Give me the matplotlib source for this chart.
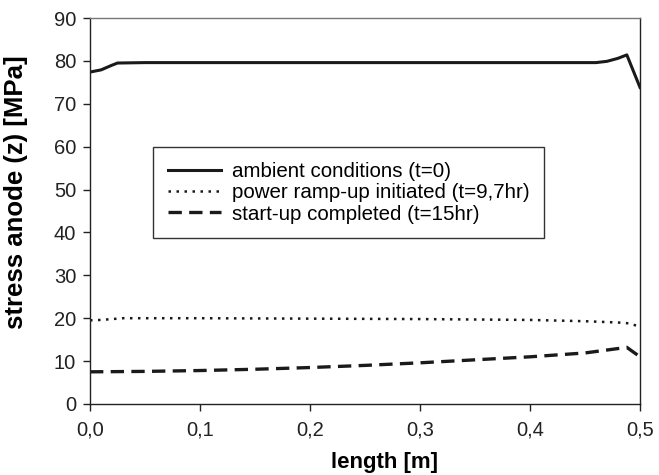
import matplotlib
matplotlib.use("Agg")
import matplotlib.pyplot as plt
from matplotlib.ticker import FixedLocator, FixedFormatter

plt.rcParams['font.family'] = ['Liberation Sans', 'DejaVu Sans']

# data
x_ambient = [0.0, 0.01, 0.02, 0.025, 0.05, 0.1, 0.2, 0.3, 0.4, 0.44, 0.46, 0.47, 0.48, 0.488, 0.5]
y_ambient = [77.4, 77.9, 79.0, 79.5, 79.6, 79.6, 79.6, 79.6, 79.6, 79.6, 79.6, 79.9, 80.6, 81.4, 73.8]

x_ramp = [0.0, 0.01, 0.03, 0.1, 0.2, 0.3, 0.4, 0.45, 0.48, 0.49, 0.5]
y_ramp = [19.5, 19.6, 20.0, 20.0, 19.9, 19.8, 19.6, 19.3, 19.0, 18.8, 18.0]

x_start = [0.0, 0.05, 0.1, 0.15, 0.2, 0.25, 0.3, 0.35, 0.4, 0.45, 0.488, 0.5]
y_start = [7.5, 7.6, 7.8, 8.1, 8.5, 9.0, 9.6, 10.3, 11.0, 11.9, 13.2, 11.0]

labels = ["ambient conditions (t=0)",
          "power ramp-up initiated (t=9,7hr)",
          "start-up completed (t=15hr)"]

xticks = [0.0, 0.1, 0.2, 0.3, 0.4, 0.5]
xticklabels = ["0,0", "0,1", "0,2", "0,3", "0,4", "0,5"]
yticks = [0, 10, 20, 30, 40, 50, 60, 70, 80, 90]

fig = plt.figure(figsize=(6.59, 4.75), dpi=100)
ax = fig.add_axes([0.1366, 0.1495, 0.8346, 0.8126])

ax.plot(x_ambient, y_ambient, color='#1a1a1a', lw=2.2, ls='-', label=labels[0])
ax.plot(x_ramp, y_ramp, color='#1a1a1a', lw=1.8, ls=(0, (1, 2.2)), label=labels[1])
ax.plot(x_start, y_start, color='#1a1a1a', lw=2.4, ls=(0, (4, 2.2)), label=labels[2])

ax.set_xlim(0, 0.5)
ax.set_ylim(0, 90)
ax.xaxis.set_major_locator(FixedLocator(xticks))
ax.xaxis.set_major_formatter(FixedFormatter(xticklabels))
ax.set_yticks(yticks)
ax.tick_params(axis='both', labelsize=14.5, direction='out', length=5, width=1, colors='#222222')
ax.tick_params(axis='x', pad=7)
ax.tick_params(axis='y', pad=5)

for s in ['left', 'bottom', 'right']:
    ax.spines[s].set_color('#222222')
    ax.spines[s].set_linewidth(1.0)
ax.spines['top'].set_color('#777777')
ax.spines['top'].set_linewidth(1.0)

ax.set_xlabel("length [m]", fontsize=16, fontweight='bold')
ax.set_ylabel("stress anode (z) [MPa]", fontsize=18.5, fontweight='bold')
ax.xaxis.set_label_coords(0.535, -0.125)
ax.yaxis.set_label_coords(-0.113, 0.549)

leg = ax.legend(loc='upper left', bbox_to_anchor=(0.1145, 0.666), fontsize=14.8,
                frameon=True, fancybox=False, edgecolor='#333333', framealpha=1,
                handlelength=2.6, handletextpad=0.5, borderpad=0.72, labelspacing=0.12,
                borderaxespad=0)
leg.get_frame().set_linewidth(1.0)

fig.savefig("out.png", dpi=100)
